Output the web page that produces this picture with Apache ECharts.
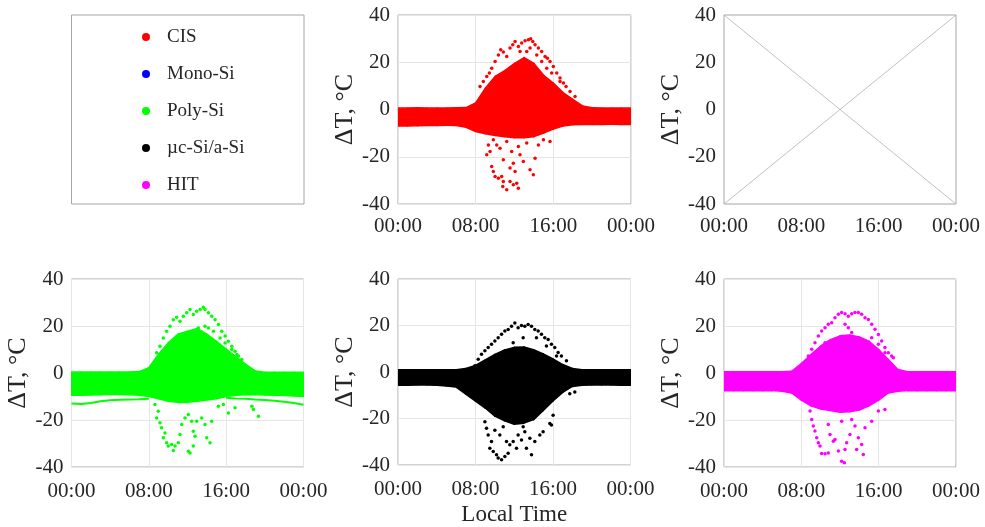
<!DOCTYPE html>
<html>
<head>
<meta charset="utf-8">
<script src="https://cdn.jsdelivr.net/npm/echarts@6/dist/echarts.min.js"></script>
<style>
html,body{margin:0;padding:0;background:#fff;}
#chart{width:985px;height:527px;}
</style>
</head>
<body>
<div id="chart"></div>
<script>
// ---------------- DATA ----------------
const seriesNames = ['CIS', 'Mono-Si', 'Poly-Si', 'µc-Si/a-Si', 'HIT'];
const xTickLabels = ['00:00', '08:00', '16:00', '00:00'];
const yAxisName = 'ΔT, °C';
const xAxisName = 'Local Time';

// hourly envelope of the dense point cloud (hours 0..24)
const hours = [0,1,2,3,4,5,6,7,8,9,10,11,12,13,14,15,16,17,18,19,20,21,22,23,24];

const cisUpper = [0.6,0.6,0.7,0.6,0.6,0.6,0.7,0.8,2.8,9.0,14.0,16.5,19.5,22.0,19.5,14.5,11.2,7.2,4.3,1.5,0.7,0.6,0.6,0.6,0.6];
const cisLower = [-7.0,-7.0,-6.9,-6.8,-6.8,-6.7,-6.8,-7.5,-9.3,-10.3,-11.0,-11.5,-12.0,-12.0,-11.5,-10.0,-8.3,-7.0,-6.5,-6.3,-6.3,-6.3,-6.2,-6.3,-6.3];

const polyUpper = [0.4,0.4,0.4,0.4,0.4,0.4,0.4,0.6,2.3,8.0,12.8,16.5,17.8,19.0,16.5,13.5,10.2,6.9,3.8,0.9,0.3,0.3,0.3,0.3,0.3];
const polyLower = [-9.5,-9.5,-9.4,-9.3,-9.2,-9.2,-9.3,-9.5,-10.0,-11.0,-12.0,-12.5,-12.5,-12.0,-11.5,-11.0,-10.0,-9.5,-9.3,-9.3,-9.4,-9.5,-9.6,-9.8,-10.0];

const mcUpper = [1.0,1.0,1.0,1.0,1.0,1.0,1.0,1.5,2.8,5.2,7.6,9.5,10.6,10.8,9.6,7.8,5.6,3.2,1.5,1.0,1.0,1.0,1.0,1.0,1.0];
const mcLower = [-5.7,-5.7,-5.6,-5.6,-5.7,-6.0,-6.5,-9.5,-12.5,-15.5,-19.0,-21.0,-22.5,-22.0,-20.5,-16.5,-12.5,-8.8,-6.2,-5.7,-5.6,-5.6,-5.6,-5.7,-5.7];

const hitUpper = [0.5,0.5,0.5,0.5,0.5,0.5,0.5,0.7,4.0,7.8,11.5,14.2,15.8,16.2,15.3,13.5,10.0,5.7,1.5,0.5,0.5,0.5,0.5,0.5,0.5];
const hitLower = [-7.5,-7.5,-7.5,-7.5,-7.5,-7.5,-7.8,-8.5,-11.5,-14.0,-15.3,-16.0,-16.7,-16.5,-15.8,-14.0,-11.5,-8.5,-7.8,-7.5,-7.5,-7.5,-7.5,-7.5,-7.5];

// sparse points outside the dense cloud [hour, dT]
const cisHigh = [[9.41,15.4],[9.65,17.5],[10.0,20.3],[10.34,23.1],[10.58,25.3],[10.85,24.3],[11.2,22.4],[11.54,26.0],[11.82,27.4],[12.06,28.8],[12.4,26.7],[12.74,28.1],[13.09,29.1],[13.43,29.5],[13.67,29.9],[13.88,28.8],[14.12,27.4],[14.46,26.0],[14.8,24.6],[15.15,22.4],[15.39,21.7],[15.66,20.3],[16.0,18.2],[16.35,15.4],[16.69,13.3],[17.04,11.2],[17.31,9.7],[17.72,7.6],[18.24,5.5],[12.57,24.6],[13.26,24.6],[13.6,26.0],[14.29,23.1],[14.8,20.3],[15.32,17.5],[15.83,15.4],[16.69,11.9],[8.79,11.9],[9.14,14.0],[8.45,9.7]];
const cisLow = [[9.65,-10.0],[9.82,-12.8],[9.31,-15.0],[9.48,-17.8],[9.14,-19.2],[9.65,-24.1],[9.82,-26.2],[10.0,-28.4],[10.34,-29.1],[10.68,-28.4],[10.85,-30.5],[10.79,-32.6],[11.2,-34.0],[11.54,-30.5],[11.88,-31.9],[12.23,-31.2],[12.4,-33.3],[11.54,-24.8],[11.88,-22.7],[12.06,-26.2],[10.85,-21.3],[12.57,-19.2],[12.91,-22.0],[13.6,-25.5],[14.12,-20.6],[13.94,-27.6],[13.26,-14.2],[14.46,-15.0],[14.98,-12.8],[15.66,-13.5],[10.51,-16.4],[11.2,-13.5],[10.17,-15.0],[12.4,-15.7],[11.71,-17.8]];

const polyHigh = [[8.81,8.6],[9.15,11.4],[9.5,14.9],[9.84,17.8],[10.19,19.9],[10.53,22.7],[10.88,23.7],[11.22,22.0],[11.57,24.2],[11.91,25.6],[12.26,27.0],[12.6,24.9],[12.95,26.3],[13.3,27.0],[13.64,28.0],[13.81,27.0],[14.16,25.6],[14.5,24.2],[14.85,22.7],[15.2,20.6],[15.54,17.8],[15.89,15.7],[16.23,13.5],[16.58,11.4],[16.92,9.3],[17.27,7.2],[17.61,5.7],[13.12,19.2],[13.81,19.9],[14.16,19.2],[14.68,17.8],[15.37,14.9],[15.89,12.8],[16.58,10.0],[17.1,7.9]];
const polyLow = [[8.63,-13.4],[8.98,-16.3],[8.81,-19.1],[9.15,-21.2],[9.32,-23.3],[9.67,-25.5],[9.5,-27.6],[9.84,-29.7],[10.01,-31.1],[10.36,-30.4],[10.71,-31.1],[10.53,-33.0],[11.05,-29.7],[11.22,-26.2],[11.4,-21.9],[11.74,-19.1],[12.09,-17.7],[12.43,-20.5],[12.6,-24.8],[12.78,-26.9],[12.95,-20.5],[13.47,-19.1],[13.81,-21.9],[13.99,-27.6],[14.33,-29.7],[14.5,-20.5],[15.2,-14.1],[15.71,-13.4],[16.23,-17.0],[16.92,-14.8],[18.65,-14.1],[18.82,-15.5],[19.34,-18.4],[12.09,-33.3],[12.26,-34.0],[12.6,-31.1]];
const polyStrandMorning = [[0,-13.0],[1,-13.2],[2,-12.8],[3,-12.0],[4,-11.6],[5,-11.4],[6,-11.3],[7,-11.2],[8,-11.0]];
const polyStrandEvening = [[16,-10.5],[17,-10.8],[18,-11.0],[19,-11.3],[20,-11.5],[21,-11.8],[22,-12.2],[23,-12.8],[24,-13.5]];

const mcHigh = [[7.94,2.7],[8.28,5.5],[8.62,7.6],[8.97,9.1],[9.31,10.5],[9.65,11.9],[10.0,13.3],[10.34,14.7],[10.69,16.2],[11.03,17.6],[11.37,18.3],[11.72,19.7],[12.06,21.1],[12.4,19.0],[12.75,20.0],[13.09,19.7],[13.43,20.4],[13.78,19.7],[14.12,18.3],[14.47,17.6],[14.81,16.2],[15.15,14.7],[15.5,14.0],[15.84,11.9],[16.18,10.5],[16.53,8.4],[16.87,6.9],[17.39,4.8],[11.89,12.6],[12.92,14.7],[14.29,14.7],[15.32,11.2],[16.36,6.9]];
const mcLow = [[8.97,-21.4],[9.14,-24.2],[9.31,-27.1],[9.65,-29.9],[9.48,-32.8],[9.83,-34.2],[10.17,-35.6],[10.34,-37.0],[10.69,-37.7],[11.03,-36.3],[11.37,-34.9],[11.54,-31.3],[11.89,-29.9],[12.23,-32.8],[12.4,-27.1],[12.75,-29.2],[13.09,-25.7],[13.26,-32.8],[13.61,-28.5],[13.78,-35.6],[14.12,-29.9],[14.64,-27.1],[14.98,-25.7],[15.67,-22.1],[15.84,-22.8],[16.01,-18.6],[17.73,-9.4],[18.25,-8.6],[10.0,-25.0],[10.51,-27.1],[11.2,-29.9],[10.86,-23.5],[12.92,-23.5]];

const hitHigh = [[8.72,7.2],[9.07,10.1],[9.41,12.9],[9.76,15.7],[10.1,17.9],[10.45,19.3],[10.79,20.7],[11.14,21.4],[11.48,23.5],[11.83,25.0],[12.17,25.7],[12.52,25.2],[12.86,24.2],[13.21,25.2],[13.55,25.7],[13.9,25.7],[14.24,25.0],[14.59,23.5],[14.93,22.8],[15.28,20.7],[15.62,18.6],[15.97,16.4],[16.31,13.6],[16.65,10.8],[17.0,8.6],[17.34,7.2],[9.93,10.1],[10.45,12.9],[12.52,20.7],[12.86,19.3],[13.21,17.2],[15.28,15.0],[15.97,12.2],[16.65,8.6],[17.52,6.5]];
const hitLow = [[8.9,-16.2],[9.07,-19.8],[9.24,-22.6],[9.41,-24.7],[9.59,-27.6],[9.76,-29.7],[9.93,-31.1],[10.1,-34.3],[10.45,-34.4],[10.79,-34.0],[10.97,-26.2],[11.31,-29.0],[11.48,-28.3],[11.83,-33.2],[12.17,-37.5],[12.45,-38.2],[12.52,-32.5],[12.69,-29.7],[13.03,-26.2],[13.55,-22.6],[13.72,-32.5],[13.9,-27.6],[14.24,-30.4],[14.41,-34.7],[14.59,-23.3],[15.28,-20.5],[15.97,-16.2],[16.65,-15.5],[12.17,-20.5],[10.79,-21.9],[13.21,-19.8]];

const monoSi = [];

// ---------------- STYLE / LAYOUT ----------------
const FONT = 'Liberation Serif';
const TXT = '#262626';
const BOX = '#a6a6a6';
const GRIDC = '#e6e6e6';
const colors = {'CIS':'#ff0000','Mono-Si':'#0000ff','Poly-Si':'#00ff00','µc-Si/a-Si':'#000000','HIT':'#ff00ff'};
const X_MIN = 0, X_MAX = 24, Y_MIN = -40, Y_MAX = 40;

const gridPos = [
  {left:398, top:15, width:233, height:189},   // CIS
  {left:724, top:15, width:232, height:189},   // Mono-Si (empty)
  {left:71.5, top:279, width:232, height:188}, // Poly-Si
  {left:398, top:279, width:232.5, height:188},// µc-Si/a-Si
  {left:724, top:279, width:232, height:188}   // HIT
];

const panels = [
  {name:'CIS', upper:cisUpper, lower:cisLower, pts:[cisHigh, cisLow], lines:[]},
  {name:'Mono-Si', empty:true},
  {name:'Poly-Si', upper:polyUpper, lower:polyLower, pts:[polyHigh, polyLow], lines:[polyStrandMorning, polyStrandEvening]},
  {name:'µc-Si/a-Si', upper:mcUpper, lower:mcLower, pts:[mcHigh, mcLow], lines:[]},
  {name:'HIT', upper:hitUpper, lower:hitLower, pts:[hitHigh, hitLow], lines:[]}
];

// band between lower and upper envelope, drawn through the axes' scales
function bandRender(color) {
  return function (params, api) {
    const n = params.dataInsideLength;
    const k = params.dataIndexInside;
    if (k >= n - 1) return null;
    const h0 = api.value(0, k), lo0 = api.value(1, k), up0 = api.value(2, k);
    const h1 = api.value(0, k + 1), lo1 = api.value(1, k + 1), up1 = api.value(2, k + 1);
    const pts = [api.coord([h0, lo0]), api.coord([h0, up0]), api.coord([h1, up1]), api.coord([h1, lo1])];
    return {type:'polygon', shape:{points:pts},
      style:{fill:color, stroke:color, lineWidth:1.5, lineJoin:'round'}};
  };
}

const grids = [], xAxes = [], yAxes = [], series = [];
panels.forEach((p, i) => {
  const g = gridPos[i];
  grids.push({left:g.left, top:g.top, width:g.width, height:g.height, show:true,
    borderColor:BOX, borderWidth:1, backgroundColor:'transparent', containLabel:false});
  const isBottomMid = (i === 3);
  xAxes.push({type:'value', gridIndex:i, min:X_MIN, max:X_MAX, interval:8,
    axisLine:{show:false}, axisTick:{show:false},
    splitLine:{show:!p.empty, lineStyle:{color:GRIDC, width:1}},
    axisLabel:{fontFamily:FONT, fontSize:21, color:TXT, margin:i < 2 ? 12 : 14,
      formatter: v => xTickLabels[Math.round(v / 8)]},
    name: isBottomMid ? xAxisName : '', nameLocation:'middle', nameGap:38,
    nameTextStyle:{fontFamily:FONT, fontSize:23, color:TXT}
  });
  yAxes.push({type:'value', gridIndex:i, min:Y_MIN, max:Y_MAX, interval:20,
    axisLine:{show:false}, axisTick:{show:false},
    splitLine:{show:!p.empty, lineStyle:{color:GRIDC, width:1}},
    axisLabel:{fontFamily:FONT, fontSize:21, color:TXT, margin:8},
    name:yAxisName, nameLocation:'middle', nameGap:30, nameRotate:90,
    nameTextStyle:{fontFamily:FONT, fontSize:26, color:TXT}
  });
  const col = colors[p.name];
  if (p.empty) {
    series.push({name:p.name, type:'scatter', xAxisIndex:i, yAxisIndex:i, data:monoSi,
      itemStyle:{color:col, opacity:1}, symbolSize:4});
    [[[X_MIN,Y_MAX],[X_MAX,Y_MIN]], [[X_MIN,Y_MIN],[X_MAX,Y_MAX]]].forEach(d => {
      series.push({type:'line', xAxisIndex:i, yAxisIndex:i, data:d, symbol:'none',
        lineStyle:{color:'#b0b0b0', width:0.8}, silent:true});
    });
    return;
  }
  series.push({type:'custom', xAxisIndex:i, yAxisIndex:i, clip:true,
    data:hours.map((h, k) => [h, p.lower[k], p.upper[k]]),
    encode:{x:0, y:[1, 2]}, renderItem:bandRender(col), z:2, silent:true});
  p.lines.forEach(d => {
    series.push({type:'line', xAxisIndex:i, yAxisIndex:i, data:d, symbol:'none',
      lineStyle:{color:col, width:2}, z:2, silent:true});
  });
  p.pts.forEach((d, k) => {
    series.push({name: k === 0 ? p.name : undefined, type:'scatter', xAxisIndex:i, yAxisIndex:i,
      data:d, symbol:'circle', symbolSize:3.5, itemStyle:{color:col, opacity:1}, z:3});
  });
});

const chart = echarts.init(document.getElementById('chart'), null, {renderer:'canvas'});
chart.setOption({
  animation:false,
  backgroundColor:'#ffffff',
  textStyle:{fontFamily:FONT},
  grid:grids, xAxis:xAxes, yAxis:yAxes, series:series,
  legend:{data:seriesNames, orient:'vertical', left:142, top:27, padding:0, icon:'circle',
    itemWidth:32, itemHeight:8, itemGap:17, selectedMode:false,
    itemStyle:{opacity:1},
    textStyle:{fontFamily:FONT, fontSize:19, color:TXT, lineHeight:20}},
  graphic:[{type:'rect', shape:{x:71.5, y:15, width:232.5, height:189},
    style:{fill:'#ffffff', stroke:BOX, lineWidth:1}, z:-1, silent:true}]
});
</script>
</body>
</html>
